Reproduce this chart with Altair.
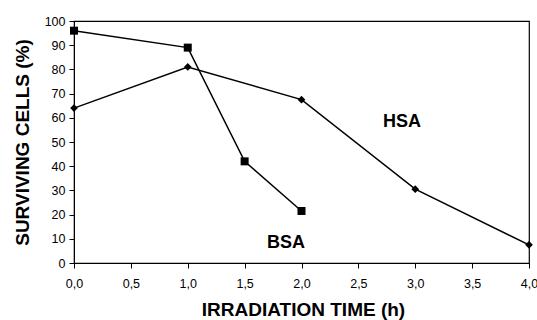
import altair as alt
import pandas as pd

hsa_time = [0, 1, 2, 3, 4]
hsa_surv = [64, 81, 67.5, 30.5, 7.5]
bsa_time = [0, 1, 1.5, 2]
bsa_surv = [96, 89, 42, 21.5]

labels_text = ["HSA", "BSA"]
labels_x = [2.884, 1.864]
labels_y = [56.2, 6.2]

x_ticks = [0, 0.5, 1, 1.5, 2, 2.5, 3, 3.5, 4]
y_ticks = [0, 10, 20, 30, 40, 50, 60, 70, 80, 90, 100]

hsa = pd.DataFrame({"t": hsa_time, "s": hsa_surv})
bsa = pd.DataFrame({"t": bsa_time, "s": bsa_surv})
lab = pd.DataFrame({"text": labels_text, "t": labels_x, "s": labels_y})

FONT = "Liberation Sans"

xscale = alt.Scale(domain=[0, 4], nice=False, zero=False)
yscale = alt.Scale(domain=[0, 100], nice=False)

common = dict(grid=False, titleFontSize=19, titleFontWeight="bold", labelFontSize=12.5,
              labelFlush=False, labelOverlap=False, tickSize=5,
              domainColor="black", tickColor="black", labelColor="black",
              titleColor="black", labelFont=FONT, titleFont=FONT)

xenc = alt.X("t:Q", scale=xscale,
             axis=alt.Axis(title="IRRADIATION TIME (h)", values=x_ticks,
                           labelExpr="replace(format(datum.value, '.1f'), '.', ',')",
                           titleX=229, titleY=52, titleBaseline="alphabetic",
                           labelPadding=9, **common))
yenc = alt.Y("s:Q", scale=yscale,
             axis=alt.Axis(title="SURVIVING CELLS (%)", values=y_ticks, tickCount=11,
                           titleX=-52, titleY=121, titleAlign="center", titleBaseline="middle",
                           labelPadding=4, **common))

hsa_line = alt.Chart(hsa).mark_line(color="black", strokeWidth=1.5).encode(x=xenc, y=yenc)
hsa_pts = alt.Chart(hsa).mark_point(shape="diamond", filled=True, color="black", size=60, opacity=1).encode(x=xenc, y=yenc)
bsa_line = alt.Chart(bsa).mark_line(color="black", strokeWidth=1.5).encode(x=xenc, y=yenc)
bsa_pts = alt.Chart(bsa).mark_point(shape="square", filled=True, color="black", size=64, opacity=1).encode(x=xenc, y=yenc)
text = alt.Chart(lab).mark_text(font=FONT, fontSize=18, fontWeight="bold", color="black",
                                baseline="alphabetic").encode(
    x=xenc, y=yenc, text="text:N")

chart = alt.layer(hsa_line, bsa_line, hsa_pts, bsa_pts, text).properties(
    width=455, height=242,
    background="white",
    autosize=alt.AutoSizeParams(type="none"),
    padding={"left": 74, "top": 21, "right": 8, "bottom": 57},
).configure_view(stroke="black", strokeWidth=1.2)

chart.save("out.html", embed_options={"renderer": "svg", "actions": False})
